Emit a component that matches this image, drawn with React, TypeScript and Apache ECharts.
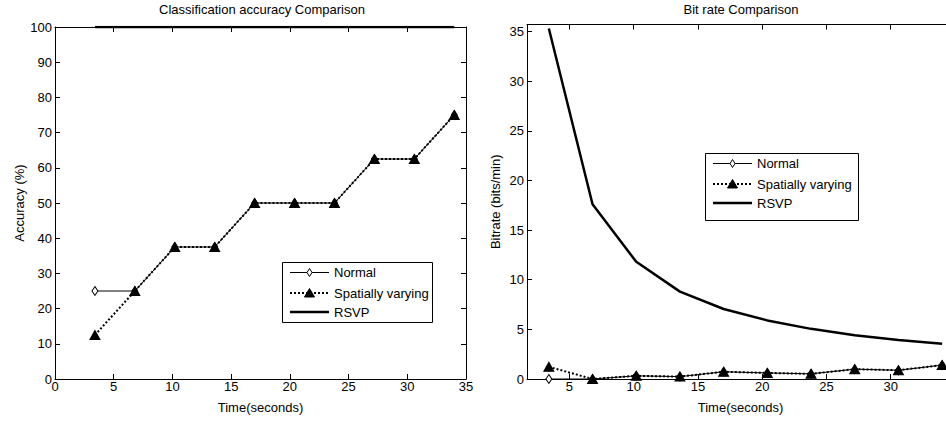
import React, { useEffect, useRef } from "react";
import * as echarts from "echarts";

const times = [3.4, 6.8, 10.2, 13.6, 17, 20.4, 23.8, 27.2, 30.6, 34];
const seriesNames = ["Normal", "Spatially varying", "RSVP"];

const accNormal = [25, 25, 37.5, 37.5, 50, 50, 50, 62.5, 62.5, 75];
const accSpatial = [12.5, 25, 37.5, 37.5, 50, 50, 50, 62.5, 62.5, 75];
const accRSVP = [100, 100, 100, 100, 100, 100, 100, 100, 100, 100];

const brNormal = [0, 0, 0.32, 0.24, 0.73, 0.61, 0.52, 0.99, 0.88, 1.4];
const brSpatial = [1.23, 0, 0.32, 0.24, 0.73, 0.61, 0.52, 0.99, 0.88, 1.4];
const brRSVP = [35.3, 17.6, 11.8, 8.8, 7.05, 5.9, 5.05, 4.4, 3.92, 3.55];

const accTicks = [0, 10, 20, 30, 40, 50, 60, 70, 80, 90, 100];
const timeTicksLeft = [0, 5, 10, 15, 20, 25, 30, 35];
const timeTicksRight = [5, 10, 15, 20, 25, 30];
const brTicks = [0, 5, 10, 15, 20, 25, 30, 35];

const FONT = "'Liberation Sans', Arial, Helvetica, sans-serif";
const BLACK = "#000";

const pairs = (ys: number[]) => times.map((t, i) => [t, ys[i]]);

function axisCommon(show: boolean) {
  return {
    axisLine: { show: true, onZero: false, lineStyle: { color: BLACK, width: 1 } },
    axisTick: { show: true, inside: true, length: 5, lineStyle: { color: BLACK, width: 1 } },
    axisLabel: { show, color: BLACK, fontSize: 13, fontFamily: FONT },
    splitLine: { show: false },
  };
}

function lineSeries(xi: number, yi: number, vals: number[][]) {
  return [
    {
      name: seriesNames[0],
      type: "line",
      xAxisIndex: xi,
      yAxisIndex: yi,
      data: pairs(vals[0]),
      symbol: "diamond",
      symbolSize: [6, 9],
      showAllSymbol: true,
      itemStyle: { color: "#fff", borderColor: BLACK, borderWidth: 1 },
      lineStyle: { color: BLACK, width: 1 },
      z: 2,
    },
    {
      name: seriesNames[1],
      type: "line",
      xAxisIndex: xi,
      yAxisIndex: yi,
      data: pairs(vals[1]),
      symbol: "triangle",
      symbolSize: [10, 9],
      showAllSymbol: true,
      itemStyle: { color: BLACK, borderColor: BLACK, borderWidth: 1 },
      lineStyle: { color: BLACK, width: 2, type: [2, 2] },
      z: 3,
    },
    {
      name: seriesNames[2],
      type: "line",
      xAxisIndex: xi,
      yAxisIndex: yi,
      data: pairs(vals[2]),
      showSymbol: false,
      symbol: "none",
      lineStyle: { color: BLACK, width: 2.5 },
      z: 4,
    },
  ];
}

function legendGraphic(x: number, y: number, w: number, h: number) {
  const rowY = [y + 10.5, y + 31, y + 50];
  const lx1 = x + 8;
  const lx2 = x + 47;
  const cx = (lx1 + lx2) / 2;
  const children: any[] = [
    {
      type: "rect",
      shape: { x: x + 0.5, y: y + 0.5, width: w, height: h },
      style: { fill: "#fff", stroke: BLACK, lineWidth: 1 },
    },
  ];
  // Normal
  children.push({
    type: "line",
    shape: { x1: lx1, y1: rowY[0], x2: lx2, y2: rowY[0] },
    style: { stroke: BLACK, lineWidth: 1 },
  });
  children.push({
    type: "polygon",
    shape: { points: [[cx, rowY[0] - 4], [cx + 2.5, rowY[0]], [cx, rowY[0] + 4], [cx - 2.5, rowY[0]]] },
    style: { fill: "#fff", stroke: BLACK, lineWidth: 1 },
  });
  // Spatially varying
  children.push({
    type: "line",
    shape: { x1: lx1, y1: rowY[1], x2: lx2, y2: rowY[1] },
    style: { stroke: BLACK, lineWidth: 2, lineDash: [2, 2] },
  });
  children.push({
    type: "polygon",
    shape: { points: [[cx, rowY[1] - 4.5], [cx + 5, rowY[1] + 4], [cx - 5, rowY[1] + 4]] },
    style: { fill: BLACK, stroke: BLACK, lineWidth: 1 },
  });
  // RSVP
  children.push({
    type: "line",
    shape: { x1: lx1, y1: rowY[2], x2: lx2, y2: rowY[2] },
    style: { stroke: BLACK, lineWidth: 2.5 },
  });
  seriesNames.forEach((n, i) => {
    children.push({
      type: "text",
      x: lx2 + 5,
      y: rowY[i],
      style: { text: n, fill: BLACK, font: `13px ${FONT}`, verticalAlign: "middle", align: "left" },
    });
  });
  return { type: "group", z: 100, children };
}

export default function App() {
  const ref = useRef<HTMLDivElement>(null);
  useEffect(() => {
    if (!ref.current) return;
    const chart = echarts.init(ref.current, undefined, { renderer: "svg" });
    const option: any = {
      animation: false,
      backgroundColor: "#fff",
      textStyle: { fontFamily: FONT, color: BLACK },
      title: [
        {
          text: "Classification accuracy Comparison",
          left: 262,
          top: 3,
          padding: 0,
          textAlign: "center",
          textStyle: { fontSize: 13, fontWeight: "normal", color: BLACK, fontFamily: FONT },
        },
        {
          text: "Bit rate Comparison",
          left: 741,
          top: 3,
          padding: 0,
          textAlign: "center",
          textStyle: { fontSize: 13, fontWeight: "normal", color: BLACK, fontFamily: FONT },
        },
      ],
      grid: [
        { left: 55, top: 27, width: 411, height: 352, containLabel: false },
        { left: 527, top: 24.5, width: 428, height: 354.5, containLabel: false },
      ],
      xAxis: [
        {
          gridIndex: 0,
          type: "value",
          position: "bottom",
          min: 0,
          max: 35,
          interval: 5,
          ...axisCommon(true),
          axisLabel: { ...axisCommon(true).axisLabel, margin: 1, customValues: timeTicksLeft },
          name: "Time(seconds)",
          nameLocation: "middle",
          nameGap: 22,
          nameTextStyle: { fontSize: 13, color: BLACK, fontFamily: FONT },
        },
        {
          gridIndex: 0,
          type: "value",
          position: "top",
          min: 0,
          max: 35,
          interval: 5,
          ...axisCommon(false),
        },
        {
          gridIndex: 1,
          type: "value",
          position: "bottom",
          min: 1.7,
          max: 35,
          ...axisCommon(true),
          axisTick: { ...axisCommon(true).axisTick, customValues: timeTicksRight },
          axisLabel: { ...axisCommon(true).axisLabel, margin: 1, customValues: timeTicksRight },
          name: "Time(seconds)",
          nameLocation: "middle",
          nameGap: 22,
          nameTextStyle: { fontSize: 13, color: BLACK, fontFamily: FONT, padding: [0, 0, 0, -1] },
        },
        {
          gridIndex: 1,
          type: "value",
          position: "top",
          min: 1.7,
          max: 35,
          ...axisCommon(false),
          axisTick: { ...axisCommon(false).axisTick, customValues: timeTicksRight },
        },
      ],
      yAxis: [
        {
          gridIndex: 0,
          type: "value",
          position: "left",
          min: 0,
          max: 100,
          interval: 10,
          ...axisCommon(true),
          axisLabel: { ...axisCommon(true).axisLabel, margin: 3, customValues: accTicks },
          name: "Accuracy (%)",
          nameLocation: "middle",
          nameGap: 28,
          nameTextStyle: { fontSize: 13, color: BLACK, fontFamily: FONT },
        },
        {
          gridIndex: 0,
          type: "value",
          position: "right",
          min: 0,
          max: 100,
          interval: 10,
          ...axisCommon(false),
        },
        {
          gridIndex: 1,
          type: "value",
          position: "left",
          min: 0,
          max: 35.7,
          ...axisCommon(true),
          axisTick: { ...axisCommon(true).axisTick, customValues: brTicks },
          axisLabel: { ...axisCommon(true).axisLabel, margin: 3, customValues: brTicks },
          name: "Bitrate (bits/min)",
          nameLocation: "middle",
          nameGap: 25,
          nameTextStyle: { fontSize: 13, color: BLACK, fontFamily: FONT },
        },
      ],
      series: [
        ...lineSeries(0, 0, [accNormal, accSpatial, accRSVP]),
        ...lineSeries(2, 2, [brNormal, brSpatial, brRSVP]),
      ],
      graphic: [legendGraphic(282, 262, 150, 60), legendGraphic(705, 153, 153, 67)],
    };
    chart.setOption(option);
    return () => chart.dispose();
  }, []);
  return (
    <div
      ref={ref}
      style={{ position: "fixed", left: 0, top: 0, width: 960, height: 425, background: "#fff" }}
    />
  );
}
